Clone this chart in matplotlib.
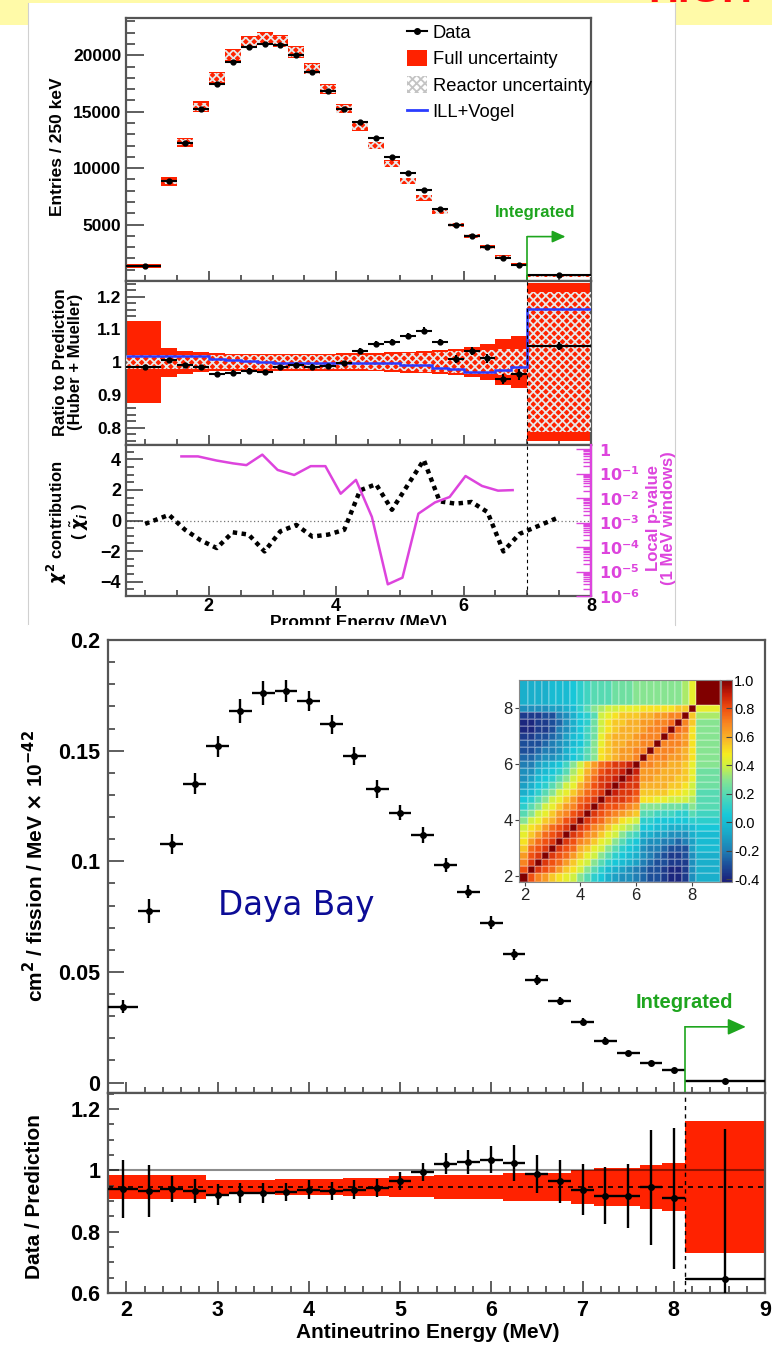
#!/usr/bin/env python3
import matplotlib
matplotlib.use("Agg")
import matplotlib.pyplot as plt
import numpy as np
from matplotlib.colors import LinearSegmentedColormap
from matplotlib.lines import Line2D
from matplotlib.patches import Patch, Rectangle
from matplotlib.ticker import (FixedLocator, FuncFormatter, LogLocator,
                               MultipleLocator, NullFormatter)

W, H = 772, 1348
RED = "#ff2200"
GREEN = "#1ea51e"
BLUE = "#2a3cff"
MAGENTA = "#dd44dd"
FRAME = "#555555"

# ---------------- prompt energy spectrum ----------------
PROMPT_EDGES = [0.7, 1.25, 1.5, 1.75, 2.0, 2.25, 2.5, 2.75, 3.0, 3.25, 3.5, 3.75, 4.0,
                4.25, 4.5, 4.75, 5.0, 5.25, 5.5, 5.75, 6.0, 6.25, 6.5, 6.75, 7.0, 8.0]
PROMPT_X = [1.0, 1.375, 1.625, 1.875, 2.125, 2.375, 2.625, 2.875, 3.125, 3.375, 3.625,
            3.875, 4.125, 4.375, 4.625, 4.875, 5.125, 5.375, 5.625, 5.875, 6.125, 6.375,
            6.625, 6.875, 7.5]
ENTRIES = [1331, 8874, 12217, 15204, 17482, 19434, 20706, 21002, 20883, 20055, 18517,
           16831, 15234, 14110, 12690, 10974, 9525, 8075, 6389, 4969, 3993, 2988, 2041,
           1420, 532]
PREDICTED = [1361, 8785, 12276, 15441, 18044, 19997, 21180, 21475, 21239, 20292, 18783,
             17008, 15263, 13696, 12010, 10383, 8874, 7365, 6123, 4940, 3993, 2988, 2130,
             1449, 503]
FULL_UNC = [0.125, 0.044, 0.035, 0.030, 0.027, 0.026, 0.026, 0.026, 0.026, 0.026, 0.026,
            0.026, 0.027, 0.027, 0.028, 0.030, 0.032, 0.034, 0.036, 0.040, 0.045, 0.055,
            0.071, 0.079, 0.241]
REACTOR_UNC = [0.022, 0.022, 0.022, 0.022, 0.022, 0.022, 0.022, 0.022, 0.022, 0.022, 0.022,
               0.022, 0.022, 0.022, 0.023, 0.025, 0.027, 0.029, 0.031, 0.033, 0.035, 0.037,
               0.039, 0.040, 0.214]
RATIO_HM = [0.984, 1.007, 0.991, 0.984, 0.964, 0.968, 0.974, 0.969, 0.984, 0.990, 0.986,
            0.988, 0.996, 1.035, 1.057, 1.062, 1.080, 1.096, 1.061, 1.010, 1.035, 1.012,
            0.949, 0.963, 1.049]
RATIO_HM_ERR = [0.006, 0.007, 0.007, 0.007, 0.007, 0.007, 0.007, 0.007, 0.007, 0.007, 0.007,
                0.007, 0.008, 0.008, 0.008, 0.009, 0.009, 0.010, 0.010, 0.011, 0.012, 0.013,
                0.015, 0.017, 0.012]
ILL_VOGEL = [1.019, 1.019, 1.019, 1.019, 1.011, 1.007, 1.003, 1.000, 0.998, 0.998, 0.998,
             0.998, 0.996, 0.996, 0.996, 0.996, 0.991, 0.991, 0.983, 0.978, 0.969, 0.969,
             0.976, 0.986, 1.163]
CHI = [-0.22, 0.37, -0.60, -1.30, -1.80, -0.77, -0.92, -2.02, -0.70, -0.29, -1.05, -0.92,
       -0.61, 1.97, 2.37, 0.70, 2.33, 3.95, 1.25, 1.10, 1.21, 0.55, -2.02, -0.88, 0.22]
PVAL_E = [1.57, 1.83, 2.12, 2.38, 2.59, 2.84, 3.08, 3.34, 3.60, 3.83, 4.07, 4.31, 4.56,
          4.81, 5.04, 5.29, 5.55, 5.78, 6.03, 6.29, 6.54, 6.77]
PVAL = [0.50, 0.50, 0.34, 0.26, 0.22, 0.59, 0.14, 0.087, 0.20, 0.20, 0.015, 0.055, 1.7e-3,
        3.0e-6, 5.6e-6, 2.3e-3, 6.6e-3, 0.011, 0.079, 0.031, 0.020, 0.021]

# ---------------- unfolded antineutrino spectrum ----------------
UNF_EDGES = [1.8, 2.125, 2.375, 2.625, 2.875, 3.125, 3.375, 3.625, 3.875, 4.125, 4.375,
             4.625, 4.875, 5.125, 5.375, 5.625, 5.875, 6.125, 6.375, 6.625, 6.875, 7.125,
             7.375, 7.625, 7.875, 8.125, 9.0]
UNF_X = [1.96, 2.25, 2.5, 2.75, 3.0, 3.25, 3.5, 3.75, 4.0, 4.25, 4.5, 4.75, 5.0, 5.25,
         5.5, 5.75, 6.0, 6.25, 6.5, 6.75, 7.0, 7.25, 7.5, 7.75, 8.0, 8.56]
SPECTRUM = [0.0343, 0.0776, 0.108, 0.135, 0.152, 0.168, 0.176, 0.177, 0.1724, 0.162,
            0.1476, 0.1327, 0.122, 0.1119, 0.0983, 0.0863, 0.0723, 0.058, 0.0464, 0.0369,
            0.0276, 0.019, 0.0133, 0.009, 0.0056, 0.0005]
SPECTRUM_ERR = [0.0030, 0.0055, 0.0045, 0.0047, 0.0048, 0.0053, 0.0053, 0.0050, 0.0047,
                0.0043, 0.0040, 0.0041, 0.0035, 0.0038, 0.0032, 0.0030, 0.0029, 0.0024,
                0.0021, 0.0017, 0.0017, 0.0014, 0.0011, 0.0009, 0.0007, 0.0003]
DATA_PRED = [0.940, 0.933, 0.939, 0.933, 0.920, 0.926, 0.926, 0.929, 0.937, 0.933, 0.937,
             0.942, 0.966, 0.995, 1.022, 1.027, 1.035, 1.024, 0.988, 0.964, 0.937, 0.917,
             0.917, 0.945, 0.909, 0.646]
DATA_PRED_ERR = [0.095, 0.085, 0.042, 0.038, 0.034, 0.033, 0.032, 0.030, 0.030, 0.030,
                 0.030, 0.030, 0.029, 0.030, 0.035, 0.038, 0.045, 0.059, 0.061, 0.071,
                 0.082, 0.093, 0.105, 0.188, 0.230, 0.490]
PRED_CENTER = 0.946
PRED_BAND = [0.039, 0.039, 0.039, 0.039, 0.023, 0.023, 0.023, 0.026, 0.026, 0.026, 0.030,
             0.030, 0.034, 0.034, 0.039, 0.039, 0.039, 0.046, 0.046, 0.046, 0.055, 0.063,
             0.063, 0.071, 0.078, 0.216]

# correlation matrix of the unfolded bins, lower triangle row by row
CORR_ROWS = [
    [1.0],
    [0.80, 1.0],
    [0.70, 0.85, 1.0],
    [0.65, 0.80, 0.85, 1.0],
    [0.55, 0.75, 0.80, 0.85, 1.0],
    [0.50, 0.65, 0.75, 0.80, 0.85, 1.0],
    [0.45, 0.55, 0.65, 0.75, 0.80, 0.85, 1.0],
    [0.40, 0.50, 0.55, 0.65, 0.75, 0.80, 0.85, 1.0],
    [0.30, 0.40, 0.45, 0.55, 0.60, 0.70, 0.80, 0.85, 1.0],
    [0.20, 0.30, 0.40, 0.45, 0.55, 0.65, 0.70, 0.80, 0.85, 1.0],
    [0.10, 0.20, 0.30, 0.40, 0.45, 0.55, 0.65, 0.70, 0.80, 0.85, 1.0],
    [0.05, 0.10, 0.20, 0.30, 0.40, 0.45, 0.55, 0.65, 0.75, 0.80, 0.85, 1.0],
    [-0.05, 0.00, 0.10, 0.20, 0.30, 0.40, 0.45, 0.55, 0.65, 0.75, 0.80, 0.85, 1.0],
    [-0.10, -0.05, 0.05, 0.10, 0.20, 0.30, 0.40, 0.45, 0.60, 0.70, 0.80, 0.85, 0.90, 1.0],
    [-0.15, -0.10, 0.00, 0.05, 0.10, 0.20, 0.30, 0.40, 0.50, 0.65, 0.75, 0.85, 0.85, 0.90,
     1.0],
    [-0.15, -0.15, -0.05, 0.00, 0.05, 0.10, 0.20, 0.35, 0.45, 0.60, 0.70, 0.80, 0.85, 0.85,
     0.90, 1.0],
    [-0.20, -0.20, -0.10, -0.05, 0.00, 0.05, 0.15, 0.30, 0.40, 0.55, 0.65, 0.75, 0.80, 0.85,
     0.85, 0.90, 1.0],
    [-0.25, -0.25, -0.20, -0.15, -0.15, -0.10, -0.05, 0.05, 0.10, 0.20, 0.30, 0.50, 0.55,
     0.60, 0.65, 0.65, 0.70, 1.0],
    [-0.30, -0.30, -0.25, -0.20, -0.20, -0.15, -0.05, 0.05, 0.10, 0.20, 0.30, 0.50, 0.55,
     0.60, 0.65, 0.65, 0.70, 0.70, 1.0],
    [-0.30, -0.30, -0.30, -0.25, -0.20, -0.15, -0.10, 0.00, 0.05, 0.15, 0.30, 0.45, 0.55,
     0.60, 0.60, 0.65, 0.65, 0.70, 0.70, 1.0],
    [-0.35, -0.35, -0.30, -0.30, -0.25, -0.20, -0.10, 0.00, 0.05, 0.15, 0.25, 0.45, 0.55,
     0.60, 0.60, 0.60, 0.65, 0.70, 0.70, 0.70, 1.0],
    [-0.40, -0.40, -0.35, -0.35, -0.30, -0.20, -0.15, -0.05, 0.05, 0.15, 0.25, 0.40, 0.50,
     0.55, 0.60, 0.60, 0.60, 0.65, 0.70, 0.70, 0.75, 1.0],
    [-0.40, -0.40, -0.35, -0.35, -0.30, -0.25, -0.15, -0.05, 0.05, 0.10, 0.25, 0.40, 0.50,
     0.55, 0.55, 0.60, 0.60, 0.65, 0.65, 0.70, 0.70, 0.75, 1.0],
    [-0.35, -0.35, -0.35, -0.30, -0.30, -0.20, -0.15, -0.05, 0.05, 0.10, 0.20, 0.40, 0.45,
     0.50, 0.55, 0.55, 0.55, 0.60, 0.60, 0.65, 0.65, 0.70, 0.70, 1.0],
    [-0.15, -0.15, -0.15, -0.15, -0.10, -0.10, -0.05, 0.00, 0.10, 0.20, 0.30, 0.35, 0.40,
     0.40, 0.45, 0.45, 0.45, 0.50, 0.50, 0.50, 0.50, 0.50, 0.55, 0.55, 1.0],
    [-0.05, -0.05, -0.05, -0.05, 0.00, 0.00, 0.00, 0.05, 0.10, 0.15, 0.20, 0.20, 0.20, 0.25,
     0.25, 0.25, 0.30, 0.30, 0.30, 0.30, 0.30, 0.30, 0.30, 0.35, 0.45, 1.0],
]
CORR_LEVELS = [-0.42, -0.30, -0.20, -0.08, 0.05, 0.18, 0.30, 0.40, 0.48, 0.58, 0.70, 0.80,
               0.90, 1.00]
CORR_COLORS = ["#1b1f7a", "#1c4f9a", "#1f7fb5", "#1aa8c8", "#18c8d8", "#4ed8b8", "#88e490",
               "#d0f040", "#f6ec20", "#f8b828", "#f88420", "#f05010", "#c81e08", "#800000"]

plt.rcParams["font.family"] = ["Liberation Sans", "DejaVu Sans"]
plt.rcParams["font.weight"] = "bold"
plt.rcParams["hatch.linewidth"] = 1.3
plt.rcParams["mathtext.fontset"] = "dejavusans"


def box(x, y, w, h):
    return [x / W, 1 - (y + h) / H, w / W, h / H]


def fpos(x, y):
    return x / W, 1 - y / H


def plain(v, _):
    return f"{round(v, 4):g}"


def frame(ax, labelsize, xlen, ylen, pad_x=3, pad_y=3.5):
    for sp in ax.spines.values():
        sp.set_color(FRAME)
        sp.set_linewidth(1.6)
    ax.tick_params(which="both", direction="in", top=False, right=False,
                   color="#333333", width=1.1, labelsize=labelsize)
    ax.tick_params(axis="x", which="major", length=xlen[0], pad=pad_x)
    ax.tick_params(axis="x", which="minor", length=xlen[1])
    ax.tick_params(axis="y", which="major", length=ylen[0], pad=pad_y)
    ax.tick_params(axis="y", which="minor", length=ylen[1])


def xerr_from(edges, xs):
    e = np.asarray(edges)
    x = np.asarray(xs)
    return [x - e[:-1], e[1:] - x]


def green_arrow(ax, x0, y0, y1, x_tip, size):
    ax.plot([x0, x0], [y0, y1], color=GREEN, lw=1.2, zorder=6, clip_on=False)
    ax.annotate("", xy=(x_tip, y1), xytext=(x0, y1), zorder=6,
                arrowprops=dict(arrowstyle=f"-|>,head_length={size},head_width={size * 0.45}",
                                color=GREEN, lw=1.2, shrinkA=0, shrinkB=0))


fig = plt.figure(figsize=(W / 100, H / 100), dpi=100)
fig.patch.set_facecolor("white")

# slide backdrop
fig.add_artist(Rectangle((0, 1 - 25 / H), 1, 25 / H, transform=fig.transFigure,
                         facecolor="#fffaa8", edgecolor="none", zorder=-3))
fig.add_artist(Rectangle((28 / W, 1 - 625 / H), 647 / W, 622 / H, transform=fig.transFigure,
                         facecolor="white", edgecolor="none", zorder=-2))
for xp in (28, 675):
    fig.add_artist(Line2D([xp / W, xp / W], [1 - 625 / H, 1 - 3 / H],
                          transform=fig.transFigure, color="#d0d0d0", lw=0.8, zorder=-1))
fig.text(*fpos(700, 2.5), "HIGH", color="#ff1010", fontsize=30, ha="center",
         va="baseline", zorder=10)

# ================= upper figure =================
ax1 = fig.add_axes(box(126, 18, 465, 263))
ax2 = fig.add_axes(box(126, 281, 465, 164))
ax3 = fig.add_axes(box(126, 445, 465, 151))

p_edges = np.array(PROMPT_EDGES)
p_left = p_edges[:-1]
p_width = np.diff(p_edges)
pred = np.array(PREDICTED, dtype=float)
full = np.array(FULL_UNC)
reac = np.array(REACTOR_UNC)
p_xerr = xerr_from(PROMPT_EDGES, PROMPT_X)

# entries panel
ax1.bar(p_left, 2 * pred * full, bottom=pred * (1 - full), width=p_width, align="edge",
        color=RED, lw=0, zorder=2)
ax1.bar(p_left, 2 * pred * reac, bottom=pred * (1 - reac), width=p_width, align="edge",
        color="none", edgecolor="#e8e8e8", hatch="xxxx", lw=0, zorder=3)
ax1.errorbar(PROMPT_X, ENTRIES, xerr=p_xerr, fmt="o", ms=3.5, color="k", elinewidth=1.5,
             capsize=0, zorder=5)
ax1.set_xlim(0.7, 8.0)
ax1.set_ylim(0, 23300)
ax1.yaxis.set_major_locator(FixedLocator([5000, 10000, 15000, 20000]))
ax1.yaxis.set_minor_locator(MultipleLocator(1000))
ax1.xaxis.set_major_locator(MultipleLocator(2))
ax1.xaxis.set_minor_locator(MultipleLocator(0.5))
ax1.tick_params(labelbottom=False)
frame(ax1, 12.5, (7, 4), (13, 6.5))

ax1.text(7.12, 6060, "Integrated", color=GREEN, fontsize=12, ha="center", va="center")
green_arrow(ax1, 7.0, 0, 3934, 7.6, 0.8)

handles = [Line2D([], [], color="k", marker="o", ms=4, lw=1.5),
           Patch(facecolor=RED, edgecolor="none"),
           Patch(facecolor="white", edgecolor="#c4c4c4", hatch="xxxx", lw=0),
           Line2D([], [], color=BLUE, lw=2)]
ax1.legend(handles, ["Data", "Full uncertainty", "Reactor uncertainty", "ILL+Vogel"],
           loc="upper left", bbox_to_anchor=(0.604, 0.978), frameon=False,
           prop=dict(size=13.2, weight="normal"), handlelength=1.1, handleheight=1.0,
           handletextpad=0.3, labelspacing=0.42, borderaxespad=0, borderpad=0)

# ratio to Huber + Mueller
ax2.bar(p_left, 2 * full, bottom=1 - full, width=p_width, align="edge", color=RED, lw=0,
        zorder=2)
ax2.bar(p_left, 2 * reac, bottom=1 - reac, width=p_width, align="edge", color="none",
        edgecolor="#e8e8e8", hatch="xxxx", lw=0, zorder=3)
ax2.stairs(ILL_VOGEL, PROMPT_EDGES, color=BLUE, lw=1.8, baseline=None, zorder=4)
ax2.errorbar(PROMPT_X, RATIO_HM, xerr=p_xerr, yerr=RATIO_HM_ERR, fmt="o", ms=3.5,
             color="k", elinewidth=1.5, capsize=0, zorder=5)
ax2.axvline(7.0, color="k", lw=0.8, ls=(0, (3, 3)), zorder=4)
ax2.set_xlim(0.7, 8.0)
ax2.set_ylim(0.747, 1.248)
ax2.yaxis.set_major_locator(FixedLocator([0.8, 0.9, 1.0, 1.1, 1.2]))
ax2.yaxis.set_minor_locator(MultipleLocator(0.02))
ax2.yaxis.set_major_formatter(FuncFormatter(plain))
ax2.xaxis.set_major_locator(MultipleLocator(2))
ax2.xaxis.set_minor_locator(MultipleLocator(0.5))
ax2.tick_params(labelbottom=False)
frame(ax2, 12.5, (7, 4), (14, 7))

# chi2 contributions and local p-values
ax3.axhline(0, color="#777777", lw=0.9, ls=(0, (1, 2)), zorder=1)
ax3.axvline(7.0, color="k", lw=0.8, ls=(0, (3, 3)), zorder=1)
ax3.plot(PROMPT_X, CHI, color="k", lw=3.2, ls=(0, (1, 1)), dash_capstyle="butt", zorder=4)
ax3.set_xlim(0.7, 8.0)
ax3.set_ylim(-4.93, 4.93)
ax3.yaxis.set_major_locator(FixedLocator([-4, -2, 0, 2, 4]))
ax3.yaxis.set_minor_locator(MultipleLocator(0.5))
ax3.xaxis.set_major_locator(MultipleLocator(2))
ax3.xaxis.set_minor_locator(MultipleLocator(0.5))
frame(ax3, 13, (7, 4), (12, 6), pad_x=1.5)

axp = ax3.twinx()
axp.plot(PVAL_E, PVAL, color=MAGENTA, lw=1.8, zorder=3)
axp.set_yscale("log")
axp.set_ylim(1e-6, 1.46)
axp.yaxis.set_major_locator(FixedLocator([1e-6, 1e-5, 1e-4, 1e-3, 1e-2, 1e-1, 1]))
axp.yaxis.set_minor_locator(LogLocator(base=10, subs=np.arange(2, 10), numticks=20))
axp.yaxis.set_minor_formatter(NullFormatter())


def pval_label(v, _):
    e = int(round(np.log10(v)))
    return r"$1$" if e == 0 else rf"$10^{{{e}}}$"


axp.yaxis.set_major_formatter(FuncFormatter(pval_label))
for name, sp in axp.spines.items():
    sp.set_visible(name == "right")
axp.spines["right"].set_color(MAGENTA)
axp.spines["right"].set_linewidth(1.6)
axp.tick_params(axis="y", which="both", direction="in", color=MAGENTA, labelcolor=MAGENTA,
                labelsize=11.5, width=1.0, pad=6)
axp.tick_params(axis="y", which="major", length=11)
axp.tick_params(axis="y", which="minor", length=5.5)

# axis titles of the upper figure
fig.text(*fpos(58, 147), "Entries / 250 keV", rotation=90, ha="center", va="center",
         fontsize=12.5)
fig.text(*fpos(68, 362), "Ratio to Prediction\n(Huber + Mueller)", rotation=90,
         ha="center", va="center", fontsize=12, linespacing=1.0)
fig.text(*fpos(68, 522), "$\\chi^{2}$ contribution\n( $\\tilde{\\chi}_{i}$ )", rotation=90,
         ha="center", va="center", fontsize=12, linespacing=1.0)
fig.text(*fpos(661, 518), "Local p-value\n(1 MeV windows)", rotation=90, ha="center",
         va="center", fontsize=12, linespacing=0.95, color=MAGENTA)
fig.text(*fpos(358, 614.5), "Prompt Energy (MeV)", ha="center", va="top", fontsize=12.5,
         zorder=5)
fig.add_artist(Rectangle((28 / W, 1 - 633 / H), 647 / W, 8 / H, transform=fig.transFigure,
                         facecolor="white", edgecolor="none", zorder=6))

# ================= lower figure =================
axm = fig.add_axes(box(108, 640, 657, 453))
axr = fig.add_axes(box(108, 1093, 657, 200))

u_edges = np.array(UNF_EDGES)
u_xerr = xerr_from(UNF_EDGES, UNF_X)

axm.errorbar(UNF_X, SPECTRUM, xerr=u_xerr, yerr=SPECTRUM_ERR, fmt="o", ms=4, color="k",
             elinewidth=1.7, capsize=0, zorder=5)
axm.set_xlim(1.8, 9.0)
axm.set_ylim(-0.0047, 0.2)
axm.yaxis.set_major_locator(FixedLocator([0, 0.05, 0.1, 0.15, 0.2]))
axm.yaxis.set_minor_locator(MultipleLocator(0.01))
axm.yaxis.set_major_formatter(FuncFormatter(plain))
axm.xaxis.set_major_locator(MultipleLocator(1))
axm.xaxis.set_minor_locator(MultipleLocator(0.2))
axm.tick_params(labelbottom=False)
frame(axm, 15.5, (8, 4), (11.5, 5), pad_y=5.5)

axm.text(8.12, 0.0361, "Integrated", color=GREEN, fontsize=14.5, ha="center",
         va="center")
green_arrow(axm, 8.125, -0.0047, 0.0252, 8.79, 1.1)
fig.text(*fpos(296, 905), "Daya Bay", color="#0c0c96", fontsize=23.5, ha="center",
         va="center", family="DejaVu Sans", weight="normal")

# data / prediction
band = np.array(PRED_BAND)
axr.bar(u_edges[:-1], 2 * band, bottom=PRED_CENTER - band, width=np.diff(u_edges),
        align="edge", color=RED, lw=0, zorder=1)
axr.axhline(1.0, color="k", alpha=0.45, lw=1.5, zorder=2)
axr.axhline(PRED_CENTER, color="k", lw=1.2, ls=(0, (3, 3)), zorder=2)
axr.axvline(8.125, color="k", lw=1.0, ls=(0, (3, 3)), zorder=2)
axr.errorbar(UNF_X, DATA_PRED, xerr=u_xerr, yerr=DATA_PRED_ERR, fmt="o", ms=4, color="k",
             elinewidth=1.7, capsize=0, zorder=5)
axr.set_xlim(1.8, 9.0)
axr.set_ylim(0.6, 1.252)
axr.yaxis.set_major_locator(FixedLocator([0.6, 0.8, 1.0, 1.2]))
axr.yaxis.set_minor_locator(MultipleLocator(0.05))
axr.yaxis.set_major_formatter(FuncFormatter(plain))
axr.xaxis.set_major_locator(MultipleLocator(1))
axr.xaxis.set_minor_locator(MultipleLocator(0.2))
frame(axr, 15.5, (9, 5), (8, 4.5), pad_x=5, pad_y=5.5)

fig.text(*fpos(35, 866), "cm$^{2}$ / fission / MeV $\\times$ 10$^{-42}$", rotation=90,
         ha="center", va="center", fontsize=15)
fig.text(*fpos(35, 1197), "Data / Prediction", rotation=90, ha="center", va="center",
         fontsize=15)
fig.text(*fpos(428, 1333), "Antineutrino Energy (MeV)", ha="center", va="center",
         fontsize=15)

# correlation inset
axi = fig.add_axes(box(519, 680, 201, 202))
cax = fig.add_axes(box(721, 680, 11, 202))
n = len(CORR_ROWS)
corr = np.zeros((n, n))
for i, row in enumerate(CORR_ROWS):
    corr[i, :len(row)] = row
corr = corr + np.tril(corr, -1).T

vmin, vmax = CORR_LEVELS[0], CORR_LEVELS[-1]
cmap = LinearSegmentedColormap.from_list(
    "corr", [((v - vmin) / (vmax - vmin), c) for v, c in zip(CORR_LEVELS, CORR_COLORS)])
mesh = axi.pcolormesh(UNF_EDGES, UNF_EDGES, corr, cmap=cmap, vmin=vmin, vmax=vmax,
                      edgecolors=(1, 1, 1, 0.2), linewidth=0.3)
axi.set_xlim(1.8, 9.0)
axi.set_ylim(1.8, 9.0)
axi.set_xticks([2, 4, 6, 8], ["2", "4", "6", "8"], fontweight="normal")
axi.set_yticks([2, 4, 6, 8], ["2", "4", "6", "8"], fontweight="normal")
axi.tick_params(direction="out", length=3, labelsize=12, color="#444444",
                labelcolor="#222222", pad=1.5)
for sp in axi.spines.values():
    sp.set_color("#888888")
    sp.set_linewidth(0.8)

cb = fig.colorbar(mesh, cax=cax)
cb_ticks = [-0.4, -0.2, 0.0, 0.2, 0.4, 0.6, 0.8, 1.0]
cb.set_ticks(cb_ticks, labels=[f"{t:.1f}" for t in cb_ticks])
cb.ax.tick_params(labelsize=10.5, direction="in", length=4, color="#444444", pad=1.5)
for lbl in cb.ax.get_yticklabels():
    lbl.set_fontweight("normal")
cb.outline.set_edgecolor("#888888")
cb.outline.set_linewidth(0.8)

fig.savefig("out.png", dpi=100, facecolor="white")
